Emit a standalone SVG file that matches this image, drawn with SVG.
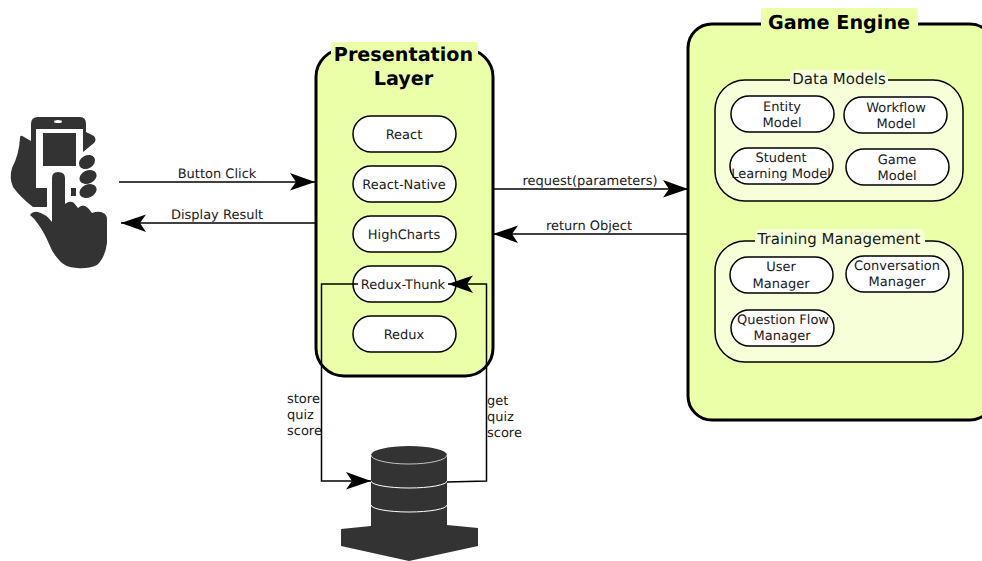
<svg xmlns="http://www.w3.org/2000/svg" width="982" height="561" viewBox="0 0 982 561">
<style>
text{font-family:"DejaVu Sans",sans-serif;fill:#1a1a1a;font-size:13px;text-rendering:geometricPrecision}
.m{text-anchor:middle}
.title{font-size:19.200px;font-weight:bold;fill:#000;text-anchor:middle}
.sub{font-size:15px;text-anchor:middle}
.big{fill:#ebffa9;stroke:#000;stroke-width:3}
.group{fill:#f6ffd8;stroke:#000;stroke-width:1.500}
.node{fill:#fff;stroke:#000;stroke-width:1.500}
.bgY{fill:#ebffa9}
.bgL{fill:#f6ffd8}
.c{fill:none;stroke:#000;stroke-width:1.500}
.a{marker-end:url(#arrow)}
.dark{fill:#333}
.w{fill:none;stroke:#fff}
</style>
<defs>
<marker id="arrow" markerUnits="userSpaceOnUse" markerWidth="26" markerHeight="18" refX="25" refY="9" orient="auto">
<path d="M0 0L25 9L0 17.500L6 9Z" fill="#000"/>
</marker>
</defs>
<rect x="0" y="0" width="982" height="561" fill="#fff"/>
<g id="phone-hand">
<path class="dark" d="M31 124Q31 117 38 117H80Q86 117 86 124V150H83V129H36V188H47V207H33Q20 197 13 187Q9 178 12 168Q19 155 20 138Q20 134 24 137L31 141Z"/>
<ellipse cx="58" cy="121.500" rx="4" ry="1.500" fill="#fff"/>
<path class="dark" d="M86 132L94 136Q97 140 94 143L83 152V132Z"/>
<rect class="dark" x="43" y="133" width="33" height="33"/>
<ellipse class="dark" cx="87" cy="162" rx="8.500" ry="6.500" transform="rotate(-28 87 162)"/>
<ellipse class="dark" cx="88" cy="177" rx="9" ry="6.500" transform="rotate(-25 88 177)"/>
<ellipse class="dark" cx="88" cy="191" rx="9" ry="6.500" transform="rotate(-25 88 191)"/>
<rect class="dark" x="71" y="188" width="5" height="8"/>
<path class="dark" d="M52 178Q52 172 58 172Q65 172 65 178V204Q70 200 74 203L78 208Q83 203 88 208L92 213Q100 210 105 214Q107 216 107 220V243Q105 258 97 265Q88 269 77 268Q64 267 59 260Q52 252 50 246Q44 232 38 224Q34 218 30 215Q33 211 38 212Q46 214 52 222Z"/>
</g>
<g id="presentation-layer">
<rect class="big" x="316" y="49" width="177" height="327" rx="28"/>
<rect class="bgY" x="331" y="42" width="147" height="28" rx="2"/>
<text class="title" x="403.500" y="61">Presentation</text>
<text class="title" x="403.500" y="85">Layer</text>
</g>
<g id="react"><rect class="node" x="353" y="116" width="103" height="36" rx="18"/><text class="m" x="404" y="139">React</text></g>
<g id="react-native"><rect class="node" x="353" y="166" width="103" height="36" rx="18"/><text class="m" x="404" y="189">React-Native</text></g>
<g id="highcharts"><rect class="node" x="353" y="216" width="103" height="36" rx="18"/><text class="m" x="404" y="239">HighCharts</text></g>
<g id="redux-thunk"><rect class="node" x="353" y="266" width="103" height="36" rx="18"/><text class="m" x="403" y="289">Redux-Thunk</text></g>
<g id="redux"><rect class="node" x="353" y="316" width="103" height="36" rx="18"/><text class="m" x="404" y="339">Redux</text></g>
<g id="game-engine">
<rect class="big" x="688" y="24" width="306" height="396" rx="24"/>
<rect class="bgY" x="761" y="8" width="157" height="26" rx="2"/>
<text class="title" x="839" y="29">Game Engine</text>
</g>
<g id="data-models">
<rect class="group" x="715" y="80" width="248" height="121" rx="30"/>
<rect class="bgL" x="790" y="70" width="98" height="18" rx="6"/>
<text class="sub" x="839" y="84">Data Models</text>
</g>
<g id="entity-model"><rect class="node" x="731" y="96" width="103" height="36" rx="18"/><text class="m" x="782" y="111">Entity</text><text class="m" x="782" y="127">Model</text></g>
<g id="workflow-model"><rect class="node" x="844" y="97" width="103" height="36" rx="18"/><text class="m" x="896" y="112">Workflow</text><text class="m" x="896" y="128">Model</text></g>
<g id="student-learning-model"><rect class="node" x="730" y="148" width="103" height="36" rx="18"/><text class="m" x="781" y="162">Student</text><text class="m" x="781" y="178">Learning Model</text></g>
<g id="game-model"><rect class="node" x="846" y="149" width="103" height="36" rx="18"/><text class="m" x="897" y="164">Game</text><text class="m" x="897" y="180">Model</text></g>
<g id="training-management">
<rect class="group" x="715" y="241" width="248" height="121" rx="30"/>
<rect class="bgL" x="755" y="229" width="170" height="20" rx="6"/>
<text class="sub" x="839" y="244">Training Management</text>
</g>
<g id="user-manager"><rect class="node" x="730" y="257" width="103" height="36" rx="18"/><text class="m" x="781" y="271">User</text><text class="m" x="781" y="288">Manager</text></g>
<g id="conversation-manager"><rect class="node" x="846" y="256" width="103" height="36" rx="18"/><text class="m" x="897" y="270">Conversation</text><text class="m" x="897" y="286">Manager</text></g>
<g id="question-flow-manager"><rect class="node" x="731" y="310" width="103" height="36" rx="18"/><text class="m" x="783" y="324">Question Flow</text><text class="m" x="782" y="340">Manager</text></g>
<g id="database">
<path class="dark" d="M371 455A38 9 0 0 1 447 455V525L478 528V546L409 561L341 546V529L371 526Z"/>
<path class="w" stroke-width="0.700" d="M371 455A38 9 0 0 0 447 455"/>
<path class="w" d="M371 481A38 7 0 0 0 447 481M371 505A38 7 0 0 0 447 505"/>
</g>
<g id="connectors">
<path class="c a" d="M119 182H315"/>
<path class="c a" d="M316 223H121"/>
<path class="c a" d="M493 189H688"/>
<path class="c a" d="M688 234H493"/>
<path class="c a" d="M358 284H321.500V481H371"/>
<path class="c a" d="M447 482L486.500 481V284H448"/>
</g>
<g id="connector-labels">
<text class="m" x="217" y="178">Button Click</text>
<text class="m" x="217" y="219">Display Result</text>
<text class="m" x="590" y="185">request(parameters)</text>
<text class="m" x="589" y="230">return Object</text>
<text x="287" y="403">store</text><text x="287" y="419">quiz</text><text x="287" y="435">score</text>
<text x="487" y="405">get</text><text x="487" y="421">quiz</text><text x="487" y="437">score</text>
</g>
</svg>
